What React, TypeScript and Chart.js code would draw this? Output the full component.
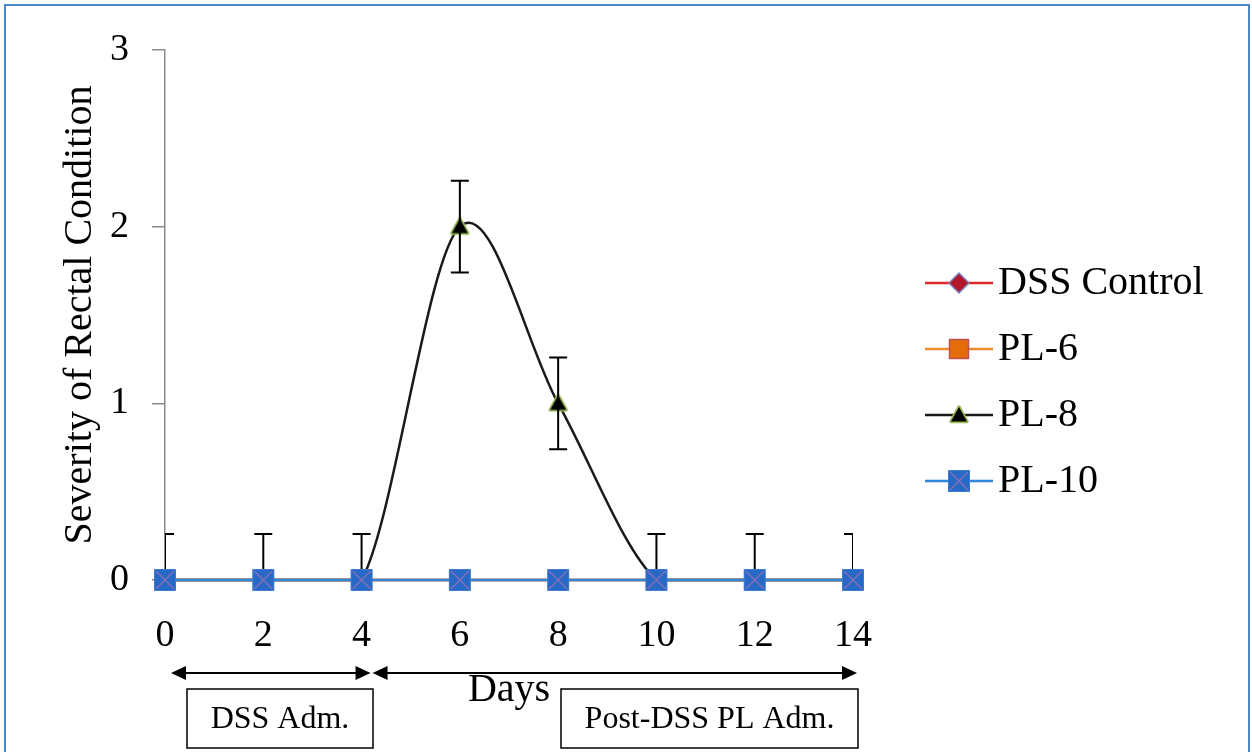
import React, { useEffect, useRef } from 'react';
import { Chart, registerables } from 'chart.js';

Chart.register(...registerables);

// ---- data ----
const days = [0, 2, 4, 6, 8, 10, 12, 14];
const dssControl = [0, 0, 0, 0, 0, 0, 0, 0];
const pl6 = [0, 0, 0, 0, 0, 0, 0, 0];
const pl8 = [0, 0, 0, 2, 1, 0, 0, 0];
const pl10 = [0, 0, 0, 0, 0, 0, 0, 0];
const pl8Err = [0.26, 0.26, 0.26, 0.26, 0.26, 0.26, 0.26, 0.26];
const seriesNames = ['DSS Control', 'PL-6', 'PL-8', 'PL-10'];
const xTicks = [0, 2, 4, 6, 8, 10, 12, 14];
const yTicks = [0, 1, 2, 3];
const xTitle = 'Days';
const yTitle = 'Severity of Rectal Condition';
const phaseLabels = ['DSS Adm.', 'Post-DSS PL Adm.'];
const phaseDays = [[0, 4], [4, 14]];

const FONT = '"Liberation Serif", "Times New Roman", serif';

function makeMarker(kind: string): HTMLCanvasElement {
  const c = document.createElement('canvas');
  c.width = 26;
  c.height = 26;
  const g = c.getContext('2d') as CanvasRenderingContext2D;
  g.lineJoin = 'round';
  if (kind === 'diamond') {
    g.beginPath();
    g.moveTo(13, 3); g.lineTo(23, 13); g.lineTo(13, 23); g.lineTo(3, 13); g.closePath();
    g.fillStyle = '#b3172c';
    g.fill();
    g.strokeStyle = '#7a84c0';
    g.lineWidth = 1.5;
    g.stroke();
  } else if (kind === 'square') {
    g.fillStyle = '#e46c0a';
    g.fillRect(3.5, 3.5, 19, 19);
    g.strokeStyle = '#c0504d';
    g.lineWidth = 1.5;
    g.strokeRect(3.5, 3.5, 19, 19);
  } else if (kind === 'triangle') {
    g.beginPath();
    g.moveTo(13, 5); g.lineTo(21, 19.5); g.lineTo(5, 19.5); g.closePath();
    g.strokeStyle = '#9bbb59';
    g.lineWidth = 3.5;
    g.stroke();
    g.fillStyle = '#000';
    g.fill();
  } else {
    g.fillStyle = '#2869c6';
    g.fillRect(2.5, 2.5, 21, 21);
    g.strokeStyle = '#3b7bd0';
    g.lineWidth = 1;
    g.strokeRect(2.5, 2.5, 21, 21);
    g.strokeStyle = '#8a70b8';
    g.lineWidth = 1.3;
    g.beginPath();
    g.moveTo(4, 4); g.lineTo(22, 22);
    g.moveTo(22, 4); g.lineTo(4, 22);
    g.stroke();
  }
  return c;
}

// Excel-style smoothing (Catmull-Rom control points), kept inside the plot area
const smoothPlugin = {
  id: 'excelSmooth',
  beforeDatasetDraw(chart: any, args: any) {
    const ds = chart.data.datasets[args.index];
    if (!ds.excelSmooth) return;
    const meta = chart.getDatasetMeta(args.index);
    const area = chart.chartArea;
    if (meta.dataset && meta.dataset.updateControlPoints) {
      meta.dataset.updateControlPoints(area, 'x');
    }
    const pts = meta.data;
    const n = pts.length;
    const clampY = (y: number) => Math.max(area.top, Math.min(area.bottom, y));
    for (let i = 0; i < n; i++) {
      const p = pts[i];
      const prev = pts[Math.max(i - 1, 0)];
      const next = pts[Math.min(i + 1, n - 1)];
      const dx = (next.x - prev.x) / 6;
      const dy = (next.y - prev.y) / 6;
      p.cp1x = p.x - dx;
      p.cp1y = clampY(p.y - dy);
      p.cp2x = p.x + dx;
      p.cp2y = clampY(p.y + dy);
    }
    if (meta.dataset) meta.dataset._path = undefined;
  },
};

const errorBarPlugin = {
  id: 'errorBars',
  afterDatasetDraw(chart: any, args: any) {
    const ds = chart.data.datasets[args.index];
    if (!ds.errors) return;
    const { ctx, chartArea } = chart;
    const xs = chart.scales.x;
    const ys = chart.scales.y;
    ctx.save();
    ctx.beginPath();
    ctx.rect(chartArea.left, chartArea.top, chartArea.right - chartArea.left, chartArea.bottom - chartArea.top);
    ctx.clip();
    ctx.strokeStyle = '#000';
    ctx.lineWidth = 2;
    ds.data.forEach((p: any, i: number) => {
      const e = ds.errors[i];
      const x = xs.getPixelForValue(p.x);
      const yt = ys.getPixelForValue(p.y + e);
      const yb = ys.getPixelForValue(p.y - e);
      ctx.beginPath();
      ctx.moveTo(x, yt); ctx.lineTo(x, yb);
      ctx.moveTo(x - 9, yt); ctx.lineTo(x + 9, yt);
      ctx.moveTo(x - 9, yb); ctx.lineTo(x + 9, yb);
      ctx.stroke();
    });
    ctx.restore();
  },
};

const legendPlugin = {
  id: 'customLegend',
  afterDraw(chart: any) {
    const { ctx, chartArea } = chart;
    const x0 = chartArea.right + 72;
    const x1 = chartArea.right + 140;
    const y0 = 283;
    const dy = 66;
    ctx.save();
    chart.data.datasets.forEach((ds: any, i: number) => {
      const y = y0 + i * dy;
      ctx.strokeStyle = ds.borderColor;
      ctx.lineWidth = 2.5;
      ctx.beginPath();
      ctx.moveTo(x0, y); ctx.lineTo(x1, y);
      ctx.stroke();
      const img = ds.pointStyle as HTMLCanvasElement;
      ctx.drawImage(img, (x0 + x1) / 2 - img.width / 2, y - img.height / 2);
      ctx.fillStyle = '#000';
      ctx.font = `40px ${FONT}`;
      ctx.textBaseline = 'middle';
      ctx.textAlign = 'left';
      ctx.fillText(ds.label, x1 + 5, y);
    });
    ctx.restore();
  },
};

const phasePlugin = {
  id: 'phases',
  afterDraw(chart: any) {
    const { ctx, chartArea } = chart;
    const xs = chart.scales.x;
    const ay = chartArea.bottom + 93;
    const arrows = [
      [xs.getPixelForValue(phaseDays[0][0]) + 6, xs.getPixelForValue(phaseDays[0][1]) + 9],
      [xs.getPixelForValue(phaseDays[1][0]) + 11, xs.getPixelForValue(phaseDays[1][1]) + 4],
    ];
    ctx.save();
    ctx.strokeStyle = '#000';
    ctx.fillStyle = '#000';
    ctx.lineWidth = 2;
    arrows.forEach(([a, b]) => {
      ctx.beginPath();
      ctx.moveTo(a + 8, ay); ctx.lineTo(b - 8, ay);
      ctx.stroke();
      ctx.beginPath();
      ctx.moveTo(a, ay); ctx.lineTo(a + 15, ay - 7); ctx.lineTo(a + 15, ay + 7); ctx.closePath();
      ctx.fill();
      ctx.beginPath();
      ctx.moveTo(b, ay); ctx.lineTo(b - 15, ay - 7); ctx.lineTo(b - 15, ay + 7); ctx.closePath();
      ctx.fill();
    });
    const by = chartArea.bottom + 109;
    const bh = 59;
    const boxes = [
      { left: chartArea.left + 22, width: 186 },
      { left: chartArea.right + 5 - 297, width: 297 },
    ];
    ctx.lineWidth = 1.5;
    ctx.font = `32px ${FONT}`;
    ctx.textAlign = 'center';
    ctx.textBaseline = 'middle';
    boxes.forEach((bx, i) => {
      ctx.fillStyle = '#fff';
      ctx.fillRect(bx.left, by, bx.width, bh);
      ctx.strokeStyle = '#000';
      ctx.strokeRect(bx.left, by, bx.width, bh);
      ctx.fillStyle = '#000';
      ctx.fillText(phaseLabels[i], bx.left + bx.width / 2, by + bh / 2 + 1);
    });
    ctx.restore();
  },
};

export default function App() {
  const ref = useRef<HTMLCanvasElement | null>(null);

  useEffect(() => {
    if (!ref.current) return;
    const toPts = (vals: number[]) => days.map((d, i) => ({ x: d, y: vals[i] }));
    const markers = ['diamond', 'square', 'triangle', 'xsquare'].map(makeMarker);
    const colors = ['#e0282c', '#f28a30', '#1a1a1a', '#2f88d8'];
    const values = [dssControl, pl6, pl8, pl10];
    const orders = [4, 3, 2, 1];
    const datasets: any[] = values.map((v, i) => ({
      label: seriesNames[i],
      data: toPts(v),
      borderColor: colors[i],
      backgroundColor: colors[i],
      borderWidth: 2.5,
      pointStyle: markers[i],
      pointRadius: 10,
      pointHoverRadius: 10,
      tension: i === 2 ? 0.4 : 0,
      clip: false,
      order: orders[i],
    }));
    datasets[2].errors = pl8Err;
    datasets[2].excelSmooth = true;

    const chart = new Chart(ref.current, {
      type: 'line',
      data: { datasets },
      options: {
        animation: false,
        responsive: false,
        events: [],
        layout: { padding: { left: 0, top: 50, right: 399, bottom: 0 } },
        plugins: {
          legend: { display: false },
          tooltip: { enabled: false },
        },
        scales: {
          x: {
            type: 'linear',
            min: 0,
            max: 14,
            afterBuildTicks: (s: any) => { s.ticks = xTicks.map((v) => ({ value: v })); },
            afterFit: (s: any) => { s.height = 172; },
            grid: { display: false },
            border: { display: true, color: '#8a8a8a', width: 1.5 },
            ticks: { font: { family: FONT, size: 38 }, color: '#000', padding: 25, autoSkip: false, maxRotation: 0 },
            title: { display: true, text: xTitle, font: { family: FONT, size: 40 }, color: '#000', padding: { top: 0, bottom: 38 } },
          },
          y: {
            type: 'linear',
            min: 0,
            max: 3,
            afterBuildTicks: (s: any) => { s.ticks = yTicks.map((v) => ({ value: v })); },
            afterFit: (s: any) => { s.width = 165; },
            grid: { display: true, drawOnChartArea: false, drawTicks: true, tickLength: 13, color: '#8a8a8a', lineWidth: 1.5 },
            border: { display: true, color: '#8a8a8a', width: 1.5 },
            ticks: { font: { family: FONT, size: 38 }, color: '#000', padding: 23 },
            title: { display: true, text: yTitle, font: { family: FONT, size: 40 }, color: '#000', padding: { top: 56, bottom: 0 } },
          },
        },
      } as any,
      plugins: [smoothPlugin, errorBarPlugin, legendPlugin, phasePlugin],
    });
    return () => chart.destroy();
  }, []);

  return (
    <div style={{ position: 'fixed', left: 0, top: 0, width: 1252, height: 752, overflow: 'hidden', background: '#fff' }}>
      <div style={{ position: 'absolute', left: 4, top: 4, width: 1242, height: 800, border: '2px solid #4f86c6' }} />
      <canvas ref={ref} width={1252} height={752} style={{ position: 'absolute', left: 0, top: 0, display: 'block' }} />
    </div>
  );
}
